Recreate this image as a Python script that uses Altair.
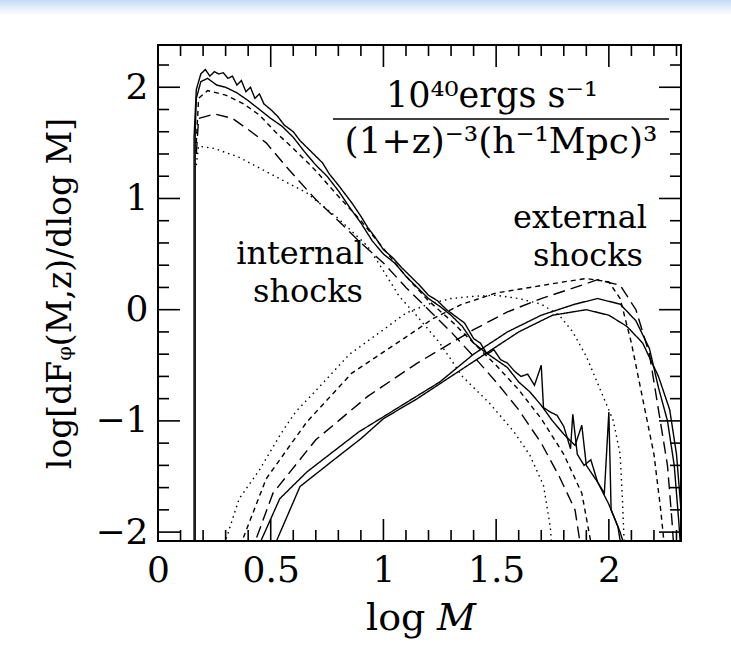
import altair as alt
import pandas as pd

# ---------------- data ----------------
# internal shocks, five redshifts
I1_x = [0.16, 0.16, 0.17, 0.19, 0.21, 0.23, 0.25, 0.27, 0.29, 0.31, 0.33, 0.35, 0.37, 0.39, 0.41, 0.43, 0.45, 0.47,
        0.50, 0.53, 0.56, 0.60, 0.63, 0.66, 0.70, 0.73, 0.76, 0.80, 0.83, 0.86, 0.90, 0.93, 0.96, 1.00, 1.04, 1.08,
        1.12, 1.16, 1.20, 1.24, 1.28, 1.32, 1.36, 1.40, 1.43, 1.46, 1.49, 1.52, 1.55, 1.58, 1.61, 1.64, 1.67, 1.70,
        1.71, 1.74, 1.77, 1.80, 1.83, 1.84, 1.86, 1.89, 1.92, 1.95, 1.98, 2.00, 2.01, 2.04, 2.06]
I1_y = [-2.2, 1.55, 1.98, 2.12, 2.16, 2.10, 2.14, 2.12, 2.13, 2.08, 2.10, 2.02, 2.06, 1.96, 2.00, 1.90, 1.94, 1.85,
        1.80, 1.74, 1.66, 1.60, 1.52, 1.46, 1.38, 1.32, 1.22, 1.12, 1.04, 0.96, 0.84, 0.74, 0.66, 0.54, 0.47, 0.38,
        0.30, 0.22, 0.13, 0.08, 0.00, -0.06, -0.12, -0.26, -0.30, -0.40, -0.36, -0.45, -0.48, -0.55, -0.60, -0.58,
        -0.68, -0.50, -0.88, -0.92, -0.95, -1.05, -1.25, -0.94, -1.30, -1.40, -1.35, -1.55, -1.65, -0.92, -1.80,
        -1.95, -2.2]
I2_x = [0.165, 0.165, 0.17, 0.19, 0.22, 0.26, 0.30, 0.35, 0.40, 0.45, 0.50, 0.55, 0.60, 0.65, 0.70, 0.75, 0.80,
        0.85, 0.90, 0.95, 1.00, 1.05, 1.10, 1.15, 1.20, 1.25, 1.30, 1.35, 1.40, 1.45, 1.50, 1.55, 1.60, 1.65, 1.70,
        1.75, 1.80, 1.85, 1.88, 1.90, 1.95, 2.00, 2.05, 2.08]
I2_y = [-2.2, 1.60, 1.90, 2.05, 2.08, 2.02, 2.00, 1.95, 1.88, 1.80, 1.72, 1.65, 1.55, 1.42, 1.30, 1.20, 1.07,
        0.92, 0.78, 0.62, 0.50, 0.42, 0.30, 0.20, 0.10, 0.03, -0.05, -0.15, -0.30, -0.38, -0.45, -0.52, -0.65,
        -0.74, -0.86, -1.00, -1.12, -1.22, -1.04, -1.40, -1.55, -1.75, -2.00, -2.2]
I3_x = [0.17, 0.18, 0.22, 0.30, 0.38, 0.45, 0.52, 0.60, 0.70, 0.80, 0.90, 1.00, 1.10, 1.20, 1.30, 1.40, 1.50,
        1.60, 1.70, 1.80, 1.88, 1.93]
I3_y = [1.50, 1.90, 1.97, 1.93, 1.85, 1.75, 1.60, 1.45, 1.25, 1.02, 0.80, 0.55, 0.30, 0.08, -0.10, -0.30, -0.50,
        -0.72, -0.98, -1.30, -1.65, -2.2]
I4_x = [0.17, 0.18, 0.25, 0.33, 0.40, 0.48, 0.58, 0.70, 0.80, 0.90, 1.00, 1.10, 1.20, 1.30, 1.40, 1.50, 1.60,
        1.70, 1.78, 1.85, 1.88]
I4_y = [1.40, 1.72, 1.76, 1.72, 1.62, 1.50, 1.26, 0.99, 0.80, 0.60, 0.42, 0.20, 0.00, -0.20, -0.42, -0.65, -0.90,
        -1.20, -1.50, -1.80, -2.2]
I5_x = [0.17, 0.18, 0.25, 0.36, 0.50, 0.66, 0.80, 0.93, 1.00, 1.07, 1.15, 1.25, 1.35, 1.47, 1.58, 1.65, 1.71,
        1.74, 1.75]
I5_y = [1.30, 1.47, 1.45, 1.37, 1.22, 1.05, 0.82, 0.57, 0.35, 0.12, -0.06, -0.30, -0.60, -0.84, -1.10, -1.31,
        -1.58, -1.95, -2.2]

# external shocks, same five redshifts
E1_x = [0.50, 0.63, 0.78, 0.90, 1.00, 1.15, 1.30, 1.45, 1.60, 1.75, 1.90, 2.00, 2.08, 2.15, 2.22, 2.27, 2.30,
        2.32]
E1_y = [-2.2, -1.59, -1.35, -1.16, -0.98, -0.80, -0.60, -0.40, -0.20, -0.05, 0.00, -0.05, -0.15, -0.30, -0.60,
        -0.90, -1.30, -1.80]
E2_x = [0.43, 0.54, 0.66, 0.89, 1.13, 1.25, 1.40, 1.55, 1.70, 1.85, 1.95, 2.05, 2.12, 2.18, 2.22, 2.26, 2.29,
        2.31, 2.32]
E2_y = [-2.2, -1.70, -1.46, -1.10, -0.80, -0.65, -0.40, -0.20, -0.05, 0.05, 0.10, 0.05, -0.10, -0.35, -0.70,
        -1.00, -1.40, -1.90, -2.2]
E3_x = [0.41, 0.51, 0.70, 0.93, 1.15, 1.25, 1.40, 1.55, 1.70, 1.85, 1.95, 2.05, 2.12, 2.18, 2.22, 2.26, 2.28,
        2.29]
E3_y = [-2.2, -1.65, -1.17, -0.78, -0.48, -0.36, -0.18, -0.02, 0.10, 0.20, 0.27, 0.22, 0.00, -0.40, -0.90,
        -1.40, -1.90, -2.2]
E4_x = [0.35, 0.48, 0.66, 0.86, 1.09, 1.22, 1.35, 1.50, 1.65, 1.80, 1.90, 2.00, 2.05, 2.10, 2.15, 2.20, 2.23,
        2.25]
E4_y = [-2.2, -1.52, -1.01, -0.57, -0.26, -0.08, 0.05, 0.15, 0.20, 0.25, 0.28, 0.25, 0.10, -0.30, -0.80, -1.30,
        -1.80, -2.2]
E5_x = [0.28, 0.36, 0.45, 0.55, 0.61, 0.69, 0.85, 1.00, 1.10, 1.20, 1.30, 1.40, 1.50, 1.60, 1.70, 1.78, 1.84,
        1.90, 1.96, 2.02, 2.05, 2.06, 2.07]
E5_y = [-2.2, -1.70, -1.44, -1.10, -0.92, -0.75, -0.40, -0.18, -0.03, 0.05, 0.10, 0.12, 0.13, 0.10, 0.05, -0.05,
        -0.20, -0.42, -0.71, -1.00, -1.30, -1.70, -2.2]

curves = [
    ("I1", "solid", I1_x, I1_y), ("I2", "solid", I2_x, I2_y), ("I3", "dash", I3_x, I3_y),
    ("I4", "longdash", I4_x, I4_y), ("I5", "dot", I5_x, I5_y),
    ("E1", "solid", E1_x, E1_y), ("E2", "solid", E2_x, E2_y), ("E3", "longdash", E3_x, E3_y),
    ("E4", "dash", E4_x, E4_y), ("E5", "dot", E5_x, E5_y),
]

x_labels = [0, 0.5, 1, 1.5, 2]
y_labels = [-2, -1, 0, 1, 2]
x_minor = [0.1, 0.2, 0.3, 0.4, 0.6, 0.7, 0.8, 0.9, 1.1, 1.2, 1.3, 1.4, 1.6, 1.7, 1.8, 1.9, 2.1, 2.2, 2.3]
y_minor = [-1.8, -1.6, -1.4, -1.2, -0.8, -0.6, -0.4, -0.2, 0.2, 0.4, 0.6, 0.8, 1.2, 1.4, 1.6, 1.8, 2.2]

# ---------------- build ----------------
rows = []
for name, style, xs_, ys_ in curves:
    for i, (a, b) in enumerate(zip(xs_, ys_)):
        rows.append({"curve": name, "style": style, "i": i, "x": a, "y": b})
df = pd.DataFrame(rows)

W, H = 523, 496
FONT = "DejaVu Serif"
xs = alt.Scale(domain=[0, 2.32], nice=False, zero=False)
ys = alt.Scale(domain=[-2.08, 2.38], nice=False, zero=False)

lines = alt.Chart(df).mark_line(color="black", strokeWidth=1.4, clip=True).encode(
    x=alt.X("x:Q", scale=xs, axis=alt.Axis(values=x_labels, title=None, ticks=False, domain=False,
                                          grid=False, labelFont=FONT, labelFontSize=36, labelColor="black",
                                          labelPadding=12, labelFlush=False, labelExpr="datum.value")),
    y=alt.Y("y:Q", scale=ys, axis=alt.Axis(values=y_labels, format="d", title="log[dFᵩ(M,z)/dlog M]",
                                          ticks=False, domain=False, grid=False, labelFont=FONT,
                                          labelFontSize=36, labelColor="black", labelPadding=10,
                                          titleFont=FONT, titleFontSize=33, titleFontWeight="normal",
                                          titleColor="black", titlePadding=17, labelFlush=False)),
    detail="curve:N",
    order="i:Q",
    strokeDash=alt.StrokeDash("style:N", scale=alt.Scale(domain=["solid", "dash", "longdash", "dot"],
                                                        range=[[1, 0], [5, 4], [12, 6], [1.5, 4]]),
                              legend=None),
)

xmaj = pd.DataFrame({"v": x_labels})
xmin = pd.DataFrame({"v": x_minor})
ymaj = pd.DataFrame({"v": y_labels})
ymin = pd.DataFrame({"v": y_minor})


def xt(d, y0, y1):
    return alt.Chart(d).mark_rule(color="black", strokeWidth=1.6).encode(
        x=alt.X("v:Q", scale=xs), y=alt.value(y0), y2=alt.value(y1))


def yt(d, x0, x1):
    return alt.Chart(d).mark_rule(color="black", strokeWidth=1.6).encode(
        y=alt.Y("v:Q", scale=ys), x=alt.value(x0), x2=alt.value(x1))


ticks = [xt(xmaj, H, H - 22), xt(xmin, H, H - 11), xt(xmaj, 0, 22), xt(xmin, 0, 11),
         yt(ymaj, 0, 22), yt(ymin, 0, 11), yt(ymaj, W, W - 22), yt(ymin, W, W - 11)]


def txt(s, x, y, size=36, align="center", style="normal"):
    return alt.Chart(pd.DataFrame({"t": [s]})).mark_text(
        font=FONT, fontSize=size, align=align, baseline="middle", color="black", fontStyle=style
    ).encode(text="t:N", x=alt.value(x), y=alt.value(y))


annos = [
    txt("10⁴⁰ergs s⁻¹", 334, 51, 35),
    txt("(1+z)⁻³(h⁻¹Mpc)³", 343, 97, 36),
    alt.Chart(pd.DataFrame({"a": [0]})).mark_rule(color="black", strokeWidth=1.6).encode(
        x=alt.value(175), x2=alt.value(511), y=alt.value(74)),
    txt("internal", 206, 209, 32, "right"),
    txt("shocks", 205, 247, 32, "right"),
    txt("external", 489, 173, 32, "right"),
    txt("shocks", 485, 211, 32, "right"),
    txt("log", 208, 574, 38, "left"),
    txt("M", 279, 574, 38, "left", "italic"),
]

band = alt.Chart(pd.DataFrame({"a": [0]})).mark_rect(
    color=alt.Gradient(gradient="linear", x1=0, x2=0, y1=0, y2=1,
                       stops=[alt.GradientStop(color="#c4dcf6", offset=0),
                              alt.GradientStop(color="#ffffff", offset=1)])).encode(
    x=alt.value(-158), x2=alt.value(573), y=alt.value(-45), y2=alt.value(-30))

chart = alt.layer(band, lines, *ticks, *annos).properties(
    width=W, height=H, autosize="none",
    padding={"left": 158, "top": 45, "right": 50, "bottom": 123},
    background="white",
).configure_view(stroke="black", strokeWidth=2)

chart.save("out.html", embed_options={"renderer": "svg", "actions": False})
